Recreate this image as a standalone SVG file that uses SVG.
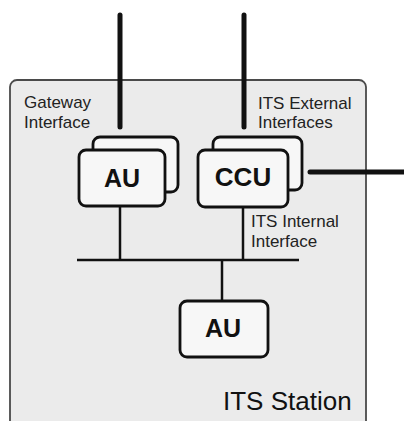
<svg xmlns="http://www.w3.org/2000/svg" width="404" height="421" viewBox="0 0 404 421">
<style>
.station{fill:#ebebeb;stroke:#4a4a4a;stroke-width:1.8}
.box{fill:#f7f7f7;stroke:#111;stroke-width:2.8}
.thick{stroke:#111;stroke-width:5;stroke-linecap:round;fill:none}
.thin{stroke:#111;stroke-width:2.5;fill:none}
.lbl{font-family:"Liberation Sans",Arial,sans-serif;font-size:17px;fill:#222}
.unit{font-family:"Liberation Sans",Arial,sans-serif;font-size:25px;font-weight:bold;fill:#111;text-anchor:middle}
.title{font-family:"Liberation Sans",Arial,sans-serif;font-size:26px;fill:#111}
</style>
<g id="station">
<rect class="station" x="10" y="80" width="356" height="360" rx="7"/>
<text class="title" x="223" y="410">ITS Station</text>
</g>
<g id="connectors">
<line class="thick" x1="120" y1="15" x2="120" y2="127"/>
<line class="thick" x1="244" y1="15" x2="244" y2="127"/>
<line class="thick" x1="310" y1="172" x2="406" y2="172"/>
<line class="thin" x1="120" y1="206" x2="120" y2="260"/>
<line class="thin" x1="243" y1="206" x2="243" y2="260"/>
<line class="thin" x1="77" y1="260" x2="299" y2="260"/>
<line class="thin" x1="222" y1="260" x2="222" y2="301"/>
</g>
<g id="labels">
<text class="lbl" x="24" y="108">Gateway</text>
<text class="lbl" x="24" y="128">Interface</text>
<text class="lbl" x="258" y="109">ITS External</text>
<text class="lbl" x="258" y="128">Interfaces</text>
<text class="lbl" x="251" y="227">ITS Internal</text>
<text class="lbl" x="251" y="247">Interface</text>
</g>
<g id="au1">
<rect class="box" x="93" y="137" width="85" height="55" rx="7"/>
<rect class="box" x="79" y="150" width="86" height="56" rx="7"/>
<text class="unit" x="122" y="187">AU</text>
</g>
<g id="ccu">
<rect class="box" x="213" y="137" width="89" height="53" rx="7"/>
<rect class="box" x="198" y="150" width="90" height="57" rx="7"/>
<text class="unit" x="243" y="186" style="font-size:26px">CCU</text>
</g>
<g id="au2">
<rect class="box" x="180" y="301" width="88" height="56" rx="7"/>
<text class="unit" x="223" y="337">AU</text>
</g>
</svg>
